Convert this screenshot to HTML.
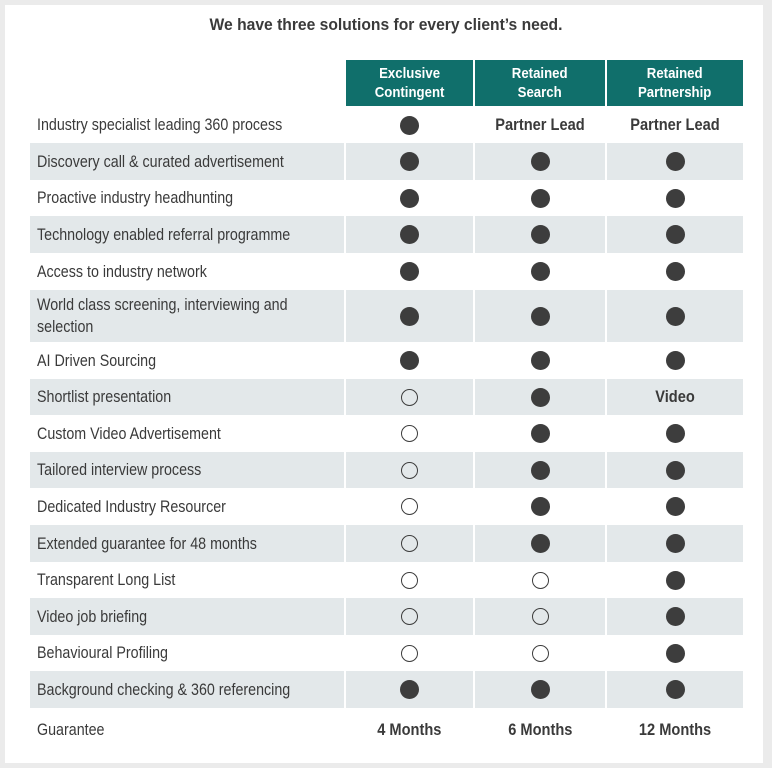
<!DOCTYPE html>
<html><head><style>
body{margin:0;width:772px;height:768px;background:#fff;position:relative;overflow:hidden;font-family:"Liberation Sans",sans-serif;color:#3a3a3a}
.frame{position:absolute;left:0;top:0;width:758px;height:758px;border:5px solid #ebebeb;border-right-width:9px;border-bottom-width:5px;box-sizing:content-box}
.t{position:absolute;left:0;width:772px;top:15px;text-align:center;font-weight:bold;font-size:17px;color:#3a3a3a;transform:scaleX(0.92)}
.h{position:absolute;top:60px;height:46px;background:#106f6b;color:#fff;font-weight:bold;font-size:15px;text-align:center;line-height:19px;display:flex;align-items:center;justify-content:center}
.h span{display:inline-block;transform:scaleX(0.88)}
.r{position:absolute;left:30px;width:713px}
.g{background:#e3e8ea}
.g .s{position:absolute;top:0;bottom:0;width:2px;background:#fff}
.l{position:absolute;left:7px;top:0;bottom:0;display:flex;align-items:center;font-size:17px;line-height:22px;white-space:nowrap;transform:scaleX(0.84);transform-origin:0 50%}
.c{position:absolute;top:0;bottom:0;display:flex;align-items:center;justify-content:center;font-weight:bold;font-size:17px;white-space:nowrap}
.c span{display:inline-block;transform:scaleX(0.86)}
.d{width:19px;height:19px;border-radius:50%;background:#3d3d3d}
.o{width:15px;height:15px;border-radius:50%;border:1.5px solid #3d3d3d}
</style></head><body>
<div class="frame"></div>
<div class="t">We have three solutions for every client’s need.</div>
<div class="h" style="left:346px;width:127px"><span>Exclusive<br>Contingent</span></div>
<div class="h" style="left:475px;width:130px"><span>Retained<br>Search</span></div>
<div class="h" style="left:607px;width:136px"><span>Retained<br>Partnership</span></div>
<div id="rows"></div>
<script>
var rows=[
["Industry specialist leading 360 process","d","Partner Lead","Partner Lead",107,36],
["Discovery call &amp; curated advertisement","d","d","d",143,37],
["Proactive industry headhunting","d","d","d",180,36],
["Technology enabled referral programme","d","d","d",216,37],
["Access to industry network","d","d","d",253,37],
["World class screening, interviewing and<br>selection","d","d","d",290,52],
["AI Driven Sourcing","d","d","d",342,37],
["Shortlist presentation","o","d","Video",379,36],
["Custom Video Advertisement","o","d","d",415,37],
["Tailored interview process","o","d","d",452,36],
["Dedicated Industry Resourcer","o","d","d",488,37],
["Extended guarantee for 48 months","o","d","d",525,37],
["Transparent Long List","o","o","d",562,36],
["Video job briefing","o","o","d",598,37],
["Behavioural Profiling","o","o","d",635,36],
["Background checking &amp; 360 referencing","d","d","d",671,37],
["Guarantee","4 Months","6 Months","12 Months",708,44]];
var cols=[[316,127],[445,130],[577,136]];
var h="";
rows.forEach(function(r,i){
 h+='<div class="r'+(i%2?' g':'')+'" style="top:'+r[4]+'px;height:'+r[5]+'px">';
 if(i%2)h+='<div class="s" style="left:314px"></div><div class="s" style="left:443px"></div><div class="s" style="left:575px"></div>';
 h+='<div class="l"><div>'+r[0]+'</div></div>';
 for(var k=0;k<3;k++){var v=r[k+1];var inner=v=="d"?'<div class="d"></div>':v=="o"?'<div class="o"></div>':'<span>'+v+'</span>';
  h+='<div class="c" style="left:'+cols[k][0]+'px;width:'+cols[k][1]+'px">'+inner+'</div>';}
 h+='</div>';});
document.getElementById("rows").innerHTML=h;
</script>
</body></html>
